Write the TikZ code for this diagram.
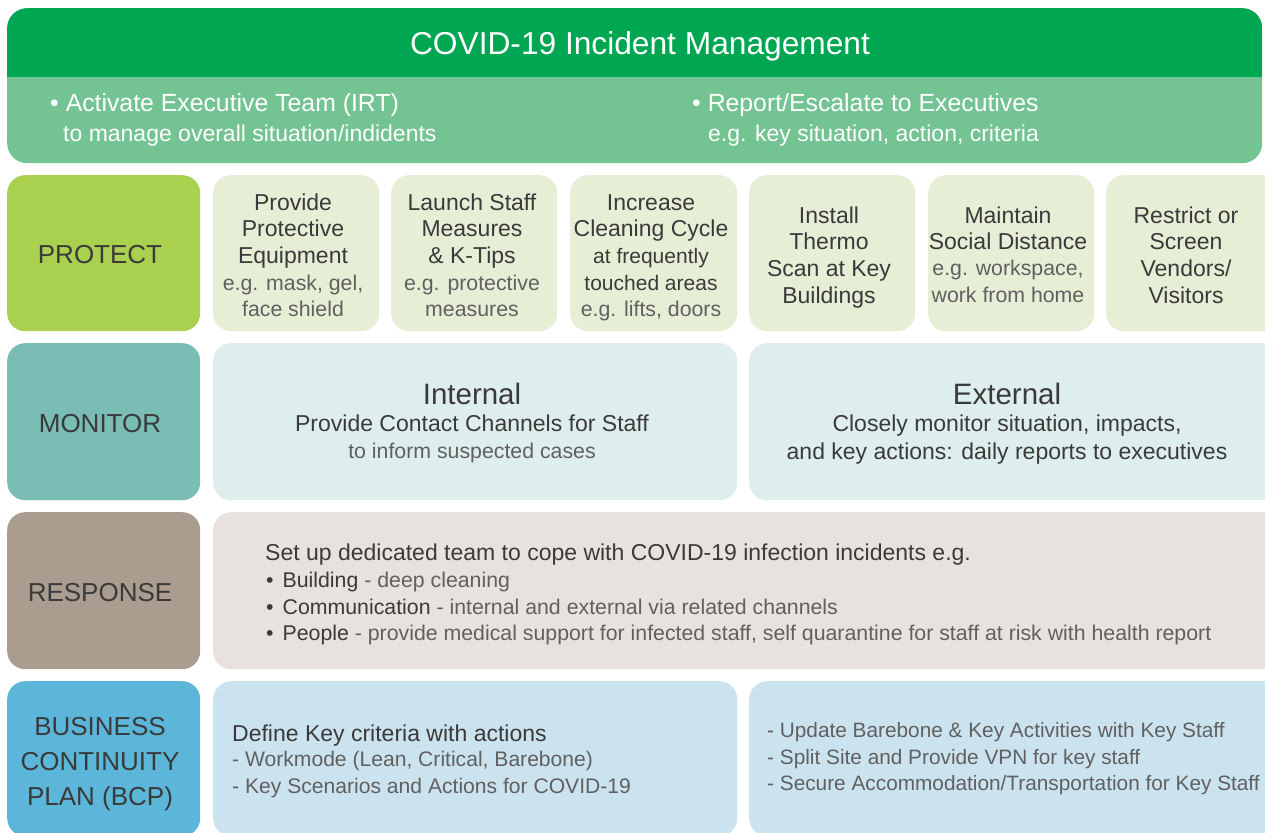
\documentclass[tikz,border=0pt]{standalone}
\usepackage{fontspec}
\setmainfont{Liberation Sans}
\definecolor{hdrdark}{HTML}{00A651}
\definecolor{hdrlight}{HTML}{74C493}
\definecolor{protlbl}{HTML}{A9D04F}
\definecolor{protitem}{HTML}{E6EFD6}
\definecolor{monlbl}{HTML}{79BDB5}
\definecolor{monitem}{HTML}{DDEEEC}
\definecolor{resplbl}{HTML}{AA9C8F}
\definecolor{respitem}{HTML}{E7E2DD}
\definecolor{bcplbl}{HTML}{5BB6D9}
\definecolor{bcpitem}{HTML}{CBE3EE}
\definecolor{tdark}{HTML}{3A3A3A}
\definecolor{tgray}{HTML}{606060}
\tikzset{
  box/.style={rounded corners=18pt, inner sep=0pt, anchor=north west},
  ln/.style={inner sep=0pt, text depth=0pt},
  lbl/.style={ln, text height=18.7pt, font=\fontsize{26}{30}\selectfont, text=tdark},
  hda/.style={ln, text height=18pt, font=\fontsize{24.8}{30}\selectfont, text=white},
  hdb/.style={ln, text height=16.5pt, font=\fontsize{23}{28}\selectfont, text=white},
  mn/.style={ln, text height=16.5pt, font=\fontsize{23}{27}\selectfont, text=tdark},
  sb/.style={ln, text height=15.3pt, font=\fontsize{21.3}{25}\selectfont, text=tgray},
  sd/.style={ln, text height=15.1pt, font=\fontsize{21}{25}\selectfont, text=tdark},
  big/.style={ln, text height=21.2pt, font=\fontsize{29.5}{34}\selectfont, text=tdark},
  rs/.style={ln, text height=15.2pt, font=\fontsize{21.1}{25}\selectfont, text=tgray},
  rr/.style={ln, text height=15pt, font=\fontsize{20.8}{25}\selectfont, text=tgray},
  rb/.style={ln, text height=15.3pt, font=\fontsize{21.3}{25}\selectfont, text=tgray},
}
\newcommand{\bx}[6]{% name, x1, y1, x2, y2, color
  \node[box, fill=#6, minimum width={(#4-#2)*1pt}, minimum height={(#5-#3)*1pt}] (#1) at (#2,#3) {};}
\newcommand{\bul}{\textbullet\hspace{9pt}}
\begin{document}
\begin{tikzpicture}[x=1pt,y=-1pt]
\useasboundingbox (0,0) rectangle (1265,832);
\fill[white] (0,0) rectangle (1265,832);
\clip (0,0) rectangle (1265,832);
% header
\node[box, rounded corners=20pt, fill=hdrlight, minimum width=1255pt, minimum height=155pt,
  path picture={\fill[hdrdark, sharp corners] (path picture bounding box.north west) rectangle ([yshift=-69pt]path picture bounding box.north east);}] (hdr) at (7,8) {};
\node[ln, text height=22.8pt, font=\fontsize{31.7}{36}\selectfont, text=white] (title) at (640,43) {COVID-19 Incident Management};
\node[hda, anchor=west] (h1) at (50,103) {\textbullet\ Activate Executive Team (IRT)};
\node[hdb, anchor=west] (h2) at (63,133) {to manage overall situation/indidents};
\node[hda, anchor=west] (h3) at (692,103) {\textbullet\ Report/Escalate to Executives};
\node[hdb, anchor=west] (h4) at (708,133) {e.g. key situation, action, criteria};
% row 1 protect
\bx{plbl}{7}{175}{200}{331}{protlbl}
\node[lbl] (tp) at (100,254) {PROTECT};
\bx{p1}{213}{175}{379}{331}{protitem}
\bx{p2}{391}{175}{557}{331}{protitem}
\bx{p3}{570}{175}{737}{331}{protitem}
\bx{p4}{749}{175}{915}{331}{protitem}
\bx{p5}{928}{175}{1094}{331}{protitem}
\bx{p6}{1106}{175}{1290}{331}{protitem}
\node[mn] (p1a) at (293,202) {Provide};
\node[mn] (p1b) at (293,228) {Protective};
\node[mn] (p1c) at (293,255) {Equipment};
\node[sb] (p1d) at (293,283) {e.g. mask, gel,};
\node[sb] (p1e) at (293,309) {face shield};
\node[mn] (p2a) at (472,202) {Launch Staff};
\node[mn] (p2b) at (472,228) {Measures};
\node[mn] (p2c) at (472,255) {\&{} K-Tips};
\node[sb] (p2d) at (472,283) {e.g. protective};
\node[sb] (p2e) at (472,309) {measures};
\node[mn] (p3a) at (651,202) {Increase};
\node[mn] (p3b) at (651,228) {Cleaning Cycle};
\node[sd] (p3c) at (651,256) {at frequently};
\node[sd] (p3d) at (651,283) {touched areas};
\node[sb] (p3e) at (651,309) {e.g. lifts, doors};
\node[mn] (p4a) at (829,215) {Install};
\node[mn] (p4b) at (829,241) {Thermo};
\node[mn] (p4c) at (829,268) {Scan at Key};
\node[mn] (p4d) at (829,295) {Buildings};
\node[mn] (p5a) at (1008,215) {Maintain};
\node[mn] (p5b) at (1008,241) {Social Distance};
\node[sb] (p5c) at (1008,268) {e.g. workspace,};
\node[sb] (p5d) at (1008,295) {work from home};
\node[mn] (p6a) at (1186,215) {Restrict or};
\node[mn] (p6b) at (1186,241) {Screen};
\node[mn] (p6c) at (1186,268) {Vendors/};
\node[mn] (p6d) at (1186,295) {Visitors};
% row 2 monitor
\bx{mlbl}{7}{343}{200}{500}{monlbl}
\node[lbl] (tm) at (100,423) {MONITOR};
\bx{m1}{213}{343}{737}{500}{monitem}
\bx{m2}{749}{343}{1290}{500}{monitem}
\node[big] (m1a) at (472,394) {Internal};
\node[mn] (m1b) at (472,423) {Provide Contact Channels for Staff};
\node[sb] (m1c) at (472,451) {to inform suspected cases};
\node[big] (m2a) at (1007,394) {External};
\node[mn] (m2b) at (1007,423) {Closely monitor situation, impacts,};
\node[mn] (m2c) at (1007,451) {and key actions: daily reports to executives};
% row 3 response
\bx{rlbl}{7}{512}{200}{669}{resplbl}
\node[lbl] (tr) at (100,592) {RESPONSE};
\bx{r1}{213}{512}{1290}{669}{respitem}
\node[mn, anchor=west] (r1a) at (265,552) {Set up dedicated team to cope with COVID-19 infection incidents e.g.};
\node[rb, anchor=west] (r1b) at (266,580) {\textcolor{tdark}{\bul Building} - deep cleaning};
\node[rb, anchor=west] (r1c) at (266,607) {\textcolor{tdark}{\bul Communication} - internal and external via related channels};
\node[rb, anchor=west] (r1d) at (266,633) {\textcolor{tdark}{\bul People} - provide medical support for infected staff, self quarantine for staff at risk with health report};
% row 4 bcp
\bx{blbl}{7}{681}{200}{836}{bcplbl}
\node[lbl] (tb1) at (100,726) {BUSINESS};
\node[lbl] (tb2) at (100,761) {CONTINUITY};
\node[lbl] (tb3) at (100,796) {PLAN (BCP)};
\bx{b1}{213}{681}{737}{836}{bcpitem}
\bx{b2}{749}{681}{1290}{836}{bcpitem}
\node[mn, anchor=west] (b1a) at (232,733) {Define Key criteria with actions};
\node[rs, anchor=west] (b1b) at (232,759) {- Workmode (Lean, Critical, Barebone)};
\node[rs, anchor=west] (b1c) at (232,786) {- Key Scenarios and Actions for COVID-19};
\node[rr, anchor=west] (b2a) at (767,730) {- Update Barebone \&{} Key Activities with Key Staff};
\node[rr, anchor=west] (b2b) at (767,757) {- Split Site and Provide VPN for key staff};
\node[rr, anchor=west] (b2c) at (767,783) {- Secure Accommodation/Transportation for Key Staff};
\end{tikzpicture}
\end{document}
